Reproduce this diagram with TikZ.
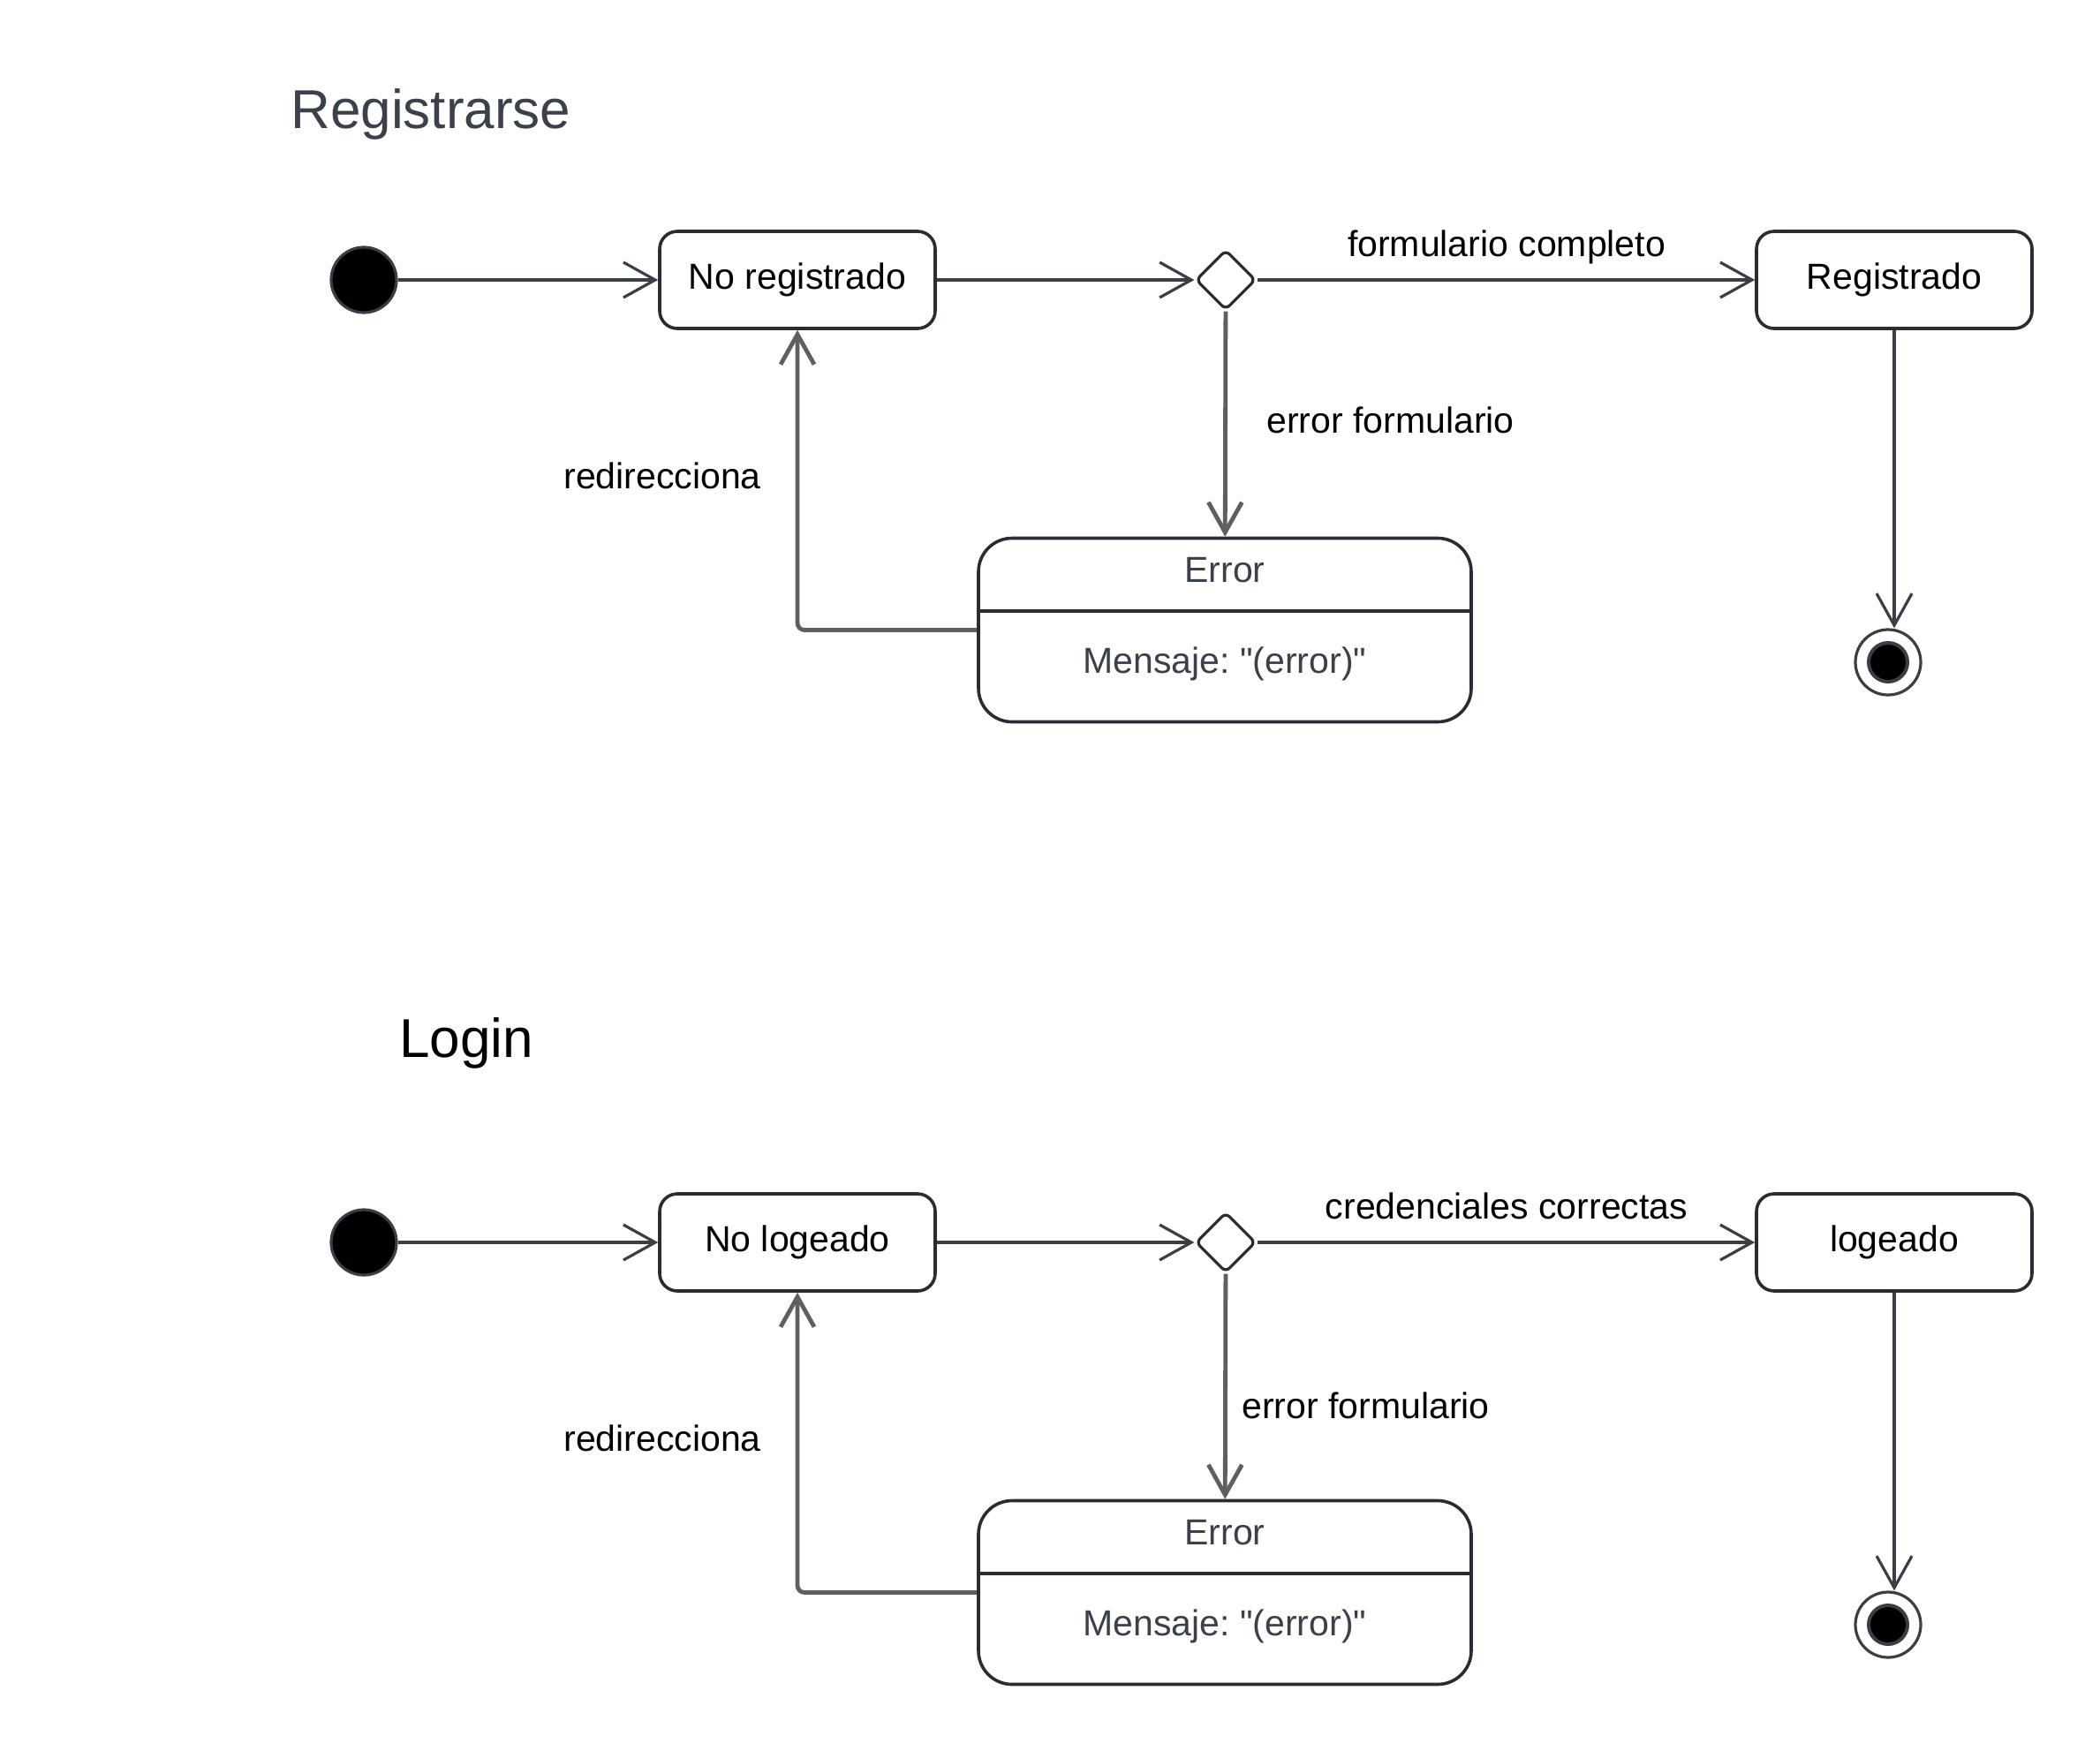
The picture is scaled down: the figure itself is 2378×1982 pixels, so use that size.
\documentclass[tikz,border=0pt]{standalone}
\usepackage{fontspec}
% plain family: keeps straight ASCII quotes
\newfontfamily\lsans{Liberation Sans}
\setmainfont{Liberation Sans}
\usetikzlibrary{arrows.meta,shapes.geometric}
\definecolor{edgec}{HTML}{282C33}
\definecolor{linec}{HTML}{3A3F46}
\definecolor{grayc}{HTML}{5F5F5F}
\definecolor{titlec}{HTML}{3A414A}
\frenchspacing
\begin{document}
\begin{tikzpicture}[x=0.5pt,y=-0.5pt,
  txt/.style={font=\lsans\fontsize{20.5}{24}\selectfont, inner sep=0pt},
  lbl/.style={txt, text=black, anchor=base},
  titletxt/.style={font=\lsans\fontsize{31}{36}\selectfont, inner sep=0pt, anchor=base west},
  state/.style={txt, draw=edgec, line width=1.8pt, rounded corners=10pt,
    minimum width=156pt, minimum height=55pt, fill=white},
  errbox/.style={draw=edgec, line width=1.8pt, rounded corners=19pt,
    minimum width=279pt, minimum height=104pt, inner sep=0pt, fill=white},
  etxt/.style={txt, text=titlec, anchor=base},
  choice/.style={diamond, aspect=1, draw=edgec, line width=1.6pt, fill=white,
    minimum width=34pt, minimum height=34pt, inner sep=0pt, rounded corners=3pt},
  initc/.style={circle, fill=black, draw=linec, line width=1.6pt,
    minimum size=37pt, inner sep=0pt},
  finc/.style={circle, draw=linec, line width=1.6pt, minimum size=37pt, inner sep=0pt},
  findot/.style={circle, fill=black, draw=linec, line width=2pt,
    minimum size=22pt, inner sep=0pt},
  arr/.style={draw=linec, line width=1.6pt, -{Straight Barb[length=18pt,width=20pt]}},
  garr/.style={draw=grayc, line width=2.4pt, -{Straight Barb[length=17pt,width=19pt]}},
]
\fill[white] (0,0) rectangle (2378,1982);
\useasboundingbox (0,0) rectangle (2378,1982);

% ---------- Registrarse ----------
\node[titletxt, text=titlec] (t1) at (329,145) {Registrarse};

\node[initc] (i1) at (412,317) {};
\node[state] (s1) at (903,317) {No registrado};
\node[choice] (d1) at (1388,317) {};
\node[state] (r1) at (2145,317) {Registrado};
\node[finc] (f1) at (2138,750) {};
\node[findot] (f1d) at (f1) {};

\node[errbox] (e1) at (1387,713.5) {};
\coordinate (e1div) at (1387,692);
\draw[edgec, line width=1.8pt] (e1.west |- e1div) -- (e1.east |- e1div);
\node[etxt] (e1t) at (1387,659) {Error};
\node[etxt] (e1m) at (1387,762) {Mensaje: "(error)"};

\draw[arr] (i1) -- (s1);
\draw[arr] (s1) -- (d1);
\draw[arr] (d1) -- (r1);
\draw[garr] (d1) -- (e1);
\draw[garr, rounded corners=4pt] (e1.west) -- (s1.south |- e1.west) -- (s1.south);
\draw[arr] (r1.south) -- (r1.south |- f1.north);

\node[lbl] (l1) at (1706,290) {formulario completo};
\node[lbl, anchor=base west] (l2) at (1434,490) {error formulario};
\node[lbl, anchor=base west] (l3) at (638,553) {redirecciona};

% ---------- Login ----------
\begin{scope}[shift={(0,1090)}]
\node[titletxt, text=black] (t2) at (452,107) {Login};

\node[initc] (i2) at (412,317) {};
\node[state] (s2) at (903,317) {No logeado};
\node[choice] (d2) at (1388,317) {};
\node[state] (r2) at (2145,317) {logeado};
\node[finc] (f2) at (2138,750) {};
\node[findot] (f2d) at (f2) {};

\node[errbox] (e2) at (1387,713.5) {};
\coordinate (e2div) at (1387,692);
\draw[edgec, line width=1.8pt] (e2.west |- e2div) -- (e2.east |- e2div);
\node[etxt] (e2t) at (1387,659) {Error};
\node[etxt] (e2m) at (1387,762) {Mensaje: "(error)"};

\draw[arr] (i2) -- (s2);
\draw[arr] (s2) -- (d2);
\draw[arr] (d2) -- (r2);
\draw[garr] (d2) -- (e2);
\draw[garr, rounded corners=4pt] (e2.west) -- (s2.south |- e2.west) -- (s2.south);
\draw[arr] (r2.south) -- (r2.south |- f2.north);

\node[lbl] (l4) at (1706,290) {credenciales correctas};
\node[lbl, anchor=base west] (l5) at (1406,516) {error formulario};
\node[lbl, anchor=base west] (l6) at (638,553) {redirecciona};
\end{scope}
\end{tikzpicture}
\end{document}
